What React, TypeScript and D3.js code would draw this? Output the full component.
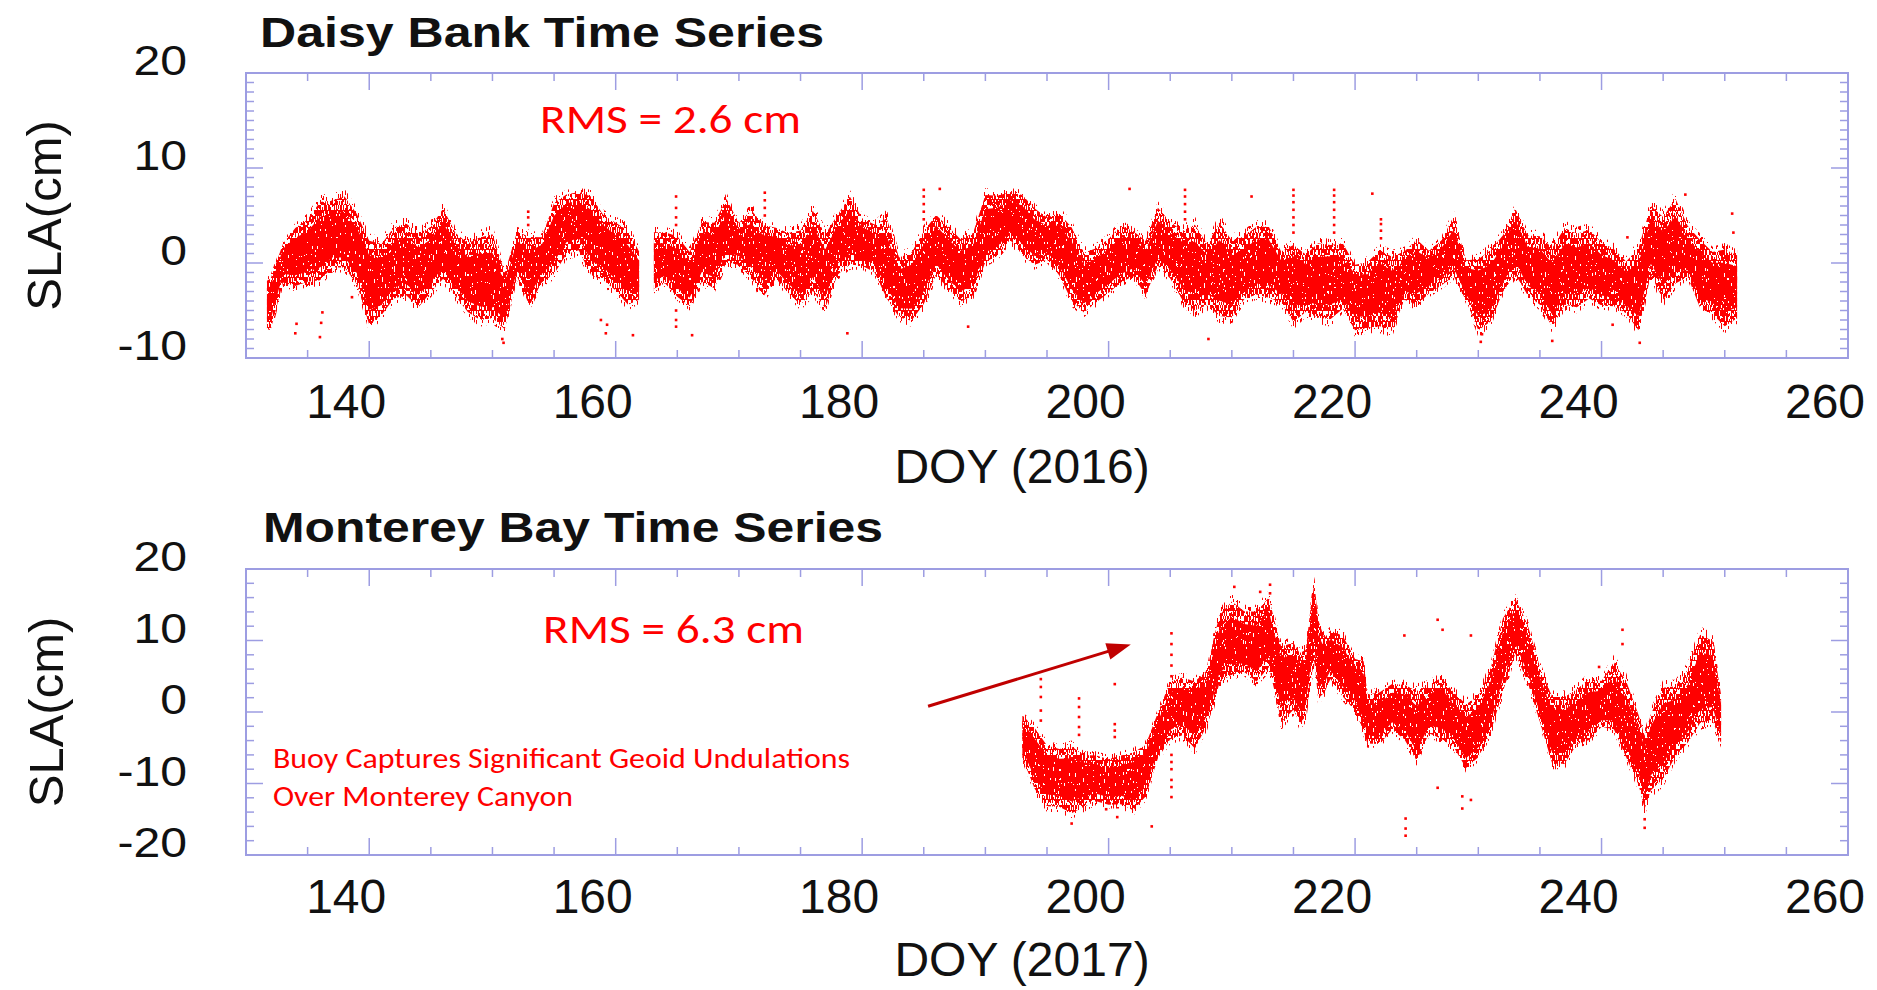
import React from "react";
import * as d3 from "d3";

const W = 1877;
const H = 990;

// ---------- Daisy Bank, 2016 (daily envelope of the SLA scatter, cm) ----------
const daisyDoy = [
  131.7, 132, 133, 134, 135, 136, 137, 138, 139, 140,
  141, 142, 143, 144, 145, 146, 147, 148, 149, 150,
  151, 152, 153, 154, 155, 156, 157, 158, 159, 160,
  161, 161.9, 162.5, 163.1, 164, 165, 166, 167, 168, 169,
  170, 171, 172, 173, 174, 175, 176, 177, 178, 179,
  180, 181, 182, 183, 184, 185, 186, 187, 188, 189,
  190, 191, 192, 193, 194, 195, 196, 197, 198, 199,
  200, 201, 202, 203, 204, 205, 206, 207, 208, 209,
  210, 211, 212, 213, 214, 215, 216, 217, 218, 219,
  220, 221, 222, 223, 224, 225, 226, 227, 228, 229,
  230, 231, 232, 233, 234, 235, 236, 237, 238, 239,
  240, 241, 242, 243, 244, 245, 246, 247, 248, 249,
  250, 251,
];
const daisyLow = [
  -7.5, -7.6, -2.5, -3, -2.5, -2.5, -1, -1, -2.8, -7.3,
  -6, -4.3, -4, -5.3, -3.6, -2.2, -4, -5.7, -6.7, -6.4,
  -7.5, -1.8, -5, -2.5, -1.8, 0.3, 0.7, -2, -2.5, -3.5,
  -5, -4.3, NaN, -3.2, -2.5, -4, -5, -2.5, -3.2, -0.4,
  -0.7, -2.1, -4.3, -2.1, -3.6, -5, -3.6, -5.3, -1.8, -0.7,
  -0.7, -1.4, -4.3, -6.2, -6.7, -5, -1.8, -3.2, -4.6, -3.9,
  -0.4, 0.3, 2, 0.3, -0.7, 0, -1.8, -4.6, -5.7, -4.6,
  -3.6, -2.5, -1.8, -3.9, -0.7, -2.1, -4.6, -5.7, -5, -6.4,
  -6.4, -4.3, -3.9, -4.3, -4.6, -7, -5.7, -6.4, -6.7, -5.3,
  -7.8, -7.4, -7.4, -7.8, -4.3, -5, -3.6, -2.8, -1.8, -4.3,
  -7.8, -6.7, -3.5, -1.8, -3.9, -5, -7.4, -5, -5.3, -4.3,
  -5, -5, -5.7, -7.8, -1.8, -4.6, -2.8, -1.8, -5.3, -6,
  -7.4, -6.4,
];
const daisyMid = [
  -4, -4, 0.5, 0.8, 1, 2, 2.5, 2.5, 1, -2,
  -2.5, -0.5, 0, -1, 0, 1.5, -0.5, -2, -2, -2.5,
  -4, 0.5, -1.5, 0.5, 2.5, 4.5, 5, 3, 2, 0.5,
  -1, -1.5, NaN, 0, 0, -1, -2, 1, 0.5, 3,
  2.5, 1.5, 1, 1, -0.5, -1, 1, -1.5, 2, 3,
  2, 1.5, -0.5, -3, -2.5, -0.5, 2, 0, -1, -0.5,
  3, 3.5, 5, 4, 2.5, 2.5, 1.5, -0.5, -2.5, -1.5,
  -0.5, 0.5, 1, -0.5, 2, 1, 0, -1, -1.2, -1,
  -2, -1, 0, 0, -1.5, -1.5, -2, -2, -1.5, -2,
  -3, -3.5, -2.5, -3.5, -1.5, -1, -1, 0, 1, -2,
  -3, -3, -0.3, 2.5, -0.5, -1, -3, -1, -1, -0.5,
  -1.5, -2, -3, -3, 2, 0.5, 1.5, 0.5, -1.5, -2,
  -2.5, -2.5,
];
const daisyHigh = [
  -1.5, -1.2, 2.3, 4.2, 5.2, 7.2, 7.3, 7.8, 5.9, 3.1,
  2.8, 4.5, 4.9, 3.8, 4.5, 6.5, 3.8, 2.8, 3.5, 4,
  -0.5, 3.8, 3.5, 3.1, 7, 7.7, 7.9, 7.7, 5.6, 4.9,
  4.2, 1.7, NaN, 3.8, 3.8, 3.5, 1.7, 4.9, 4.9, 7.4,
  4.5, 6.3, 4.5, 4.2, 3.8, 4.2, 6.3, 3.8, 5.6, 7.7,
  5.2, 4.5, 5.6, 1.2, 1.7, 4, 5.6, 4.5, 3.1, 3.8,
  7.9, 7.7, 7.9, 7.7, 6.3, 5.2, 5.9, 4.5, 1.7, 2.1,
  3.1, 4.5, 3.8, 2.8, 6.5, 4.9, 4, 4.9, 2.5, 5.2,
  3.1, 3.5, 4.5, 4.5, 1.7, 2.5, 1.4, 2.8, 2.5, 2.8,
  0.3, 0.7, 2, 1.4, 1.7, 3.1, 1.7, 2.8, 5.6, 0.7,
  1, 2.1, 3.5, 6.3, 3.5, 3.5, 2.4, 4.5, 3.8, 4.2,
  2.8, 2.1, 0.7, 2.4, 6.7, 5.6, 7.7, 4.5, 3.1, 1.7,
  2.1, 1.4,
];
// isolated samples outside the daily envelope
const daisyStrayDoy = [
  152.9, 152.9, 152.9, 164.9, 164.9, 164.9, 164.9, 164.9, 164.9, 164.9,
  172.1, 172.1, 172.1, 172.1, 185.0, 185.0, 185.0, 185.0, 185.0,
  206.2, 206.2, 206.2, 206.2, 206.2, 215.0, 215.0, 215.0, 215.0, 215.0, 215.0, 215.0,
  218.3, 218.3, 218.3, 218.3, 218.3, 218.3, 218.3, 222.1, 222.1, 222.1, 222.1,
  134.0, 134.1, 136.0, 136.1, 136.2, 138.6, 158.8, 159.2, 159.3, 161.4, 166.2, 178.8,
  186.3, 188.6, 201.7, 208.1, 211.6, 221.4, 240.9, 242.1, 250.7, 250.6, 246.8,
  150.8, 150.9, 230.2, 230.3, 236.0, 243.1,
];
const daisyStraySla = [
  4, 4.8, 5.4, 4, 4.8, 5.8, 7.0, -5, -6, -6.7,
  5, 5.8, 6.6, 7.4, 4.6, 5.4, 6.2, 7, 7.7,
  4.6, 5.4, 6.2, 7, 7.7, 3.2, 4, 4.8, 5.6, 6.4, 7.1, 7.7,
  3.2, 4, 4.8, 5.6, 6.4, 7.1, 7.7, 2.6, 3.4, 4.1, 4.6,
  -7.4, -6.4, -7.8, -6.3, -5.2, -3.6, -6, -7.4, -6.5, -7.6, -7.6, -7.4,
  7.8, -6.7, 7.8, -8, 7, 7.3, -6.5, 2.7, 3.2, 5.2, 7.2,
  -8, -8.4, -8.3, -7.5, -8.2, -8.4,
];

// ---------- Monterey Bay, 2017 ----------
const montereyDoy = [
  193, 194, 195, 196, 197, 198, 199, 200, 201, 202,
  203, 204, 205, 206, 207, 208, 208.5, 209, 210, 211,
  212, 213, 213.7, 214, 215, 215.5, 216, 216.4, 216.7, 217,
  217.5, 218, 219, 220, 220.7, 221, 222, 223, 224, 225,
  226, 227, 228, 229, 230, 231, 232, 233, 234, 235,
  236, 237, 238, 239, 240, 241, 242, 243, 243.5, 244,
  245, 246, 247, 248, 249, 249.7,
];
const montereyLow = [
  -7, -11.5, -14, -14, -15, -14, -13, -13.5, -13.5, -14.5,
  -12.5, -7, -4.5, -4, -6, -2.5, 0, 3.5, 4.5, 5,
  3.5, 5.5, 0.5, -2.5, -0.5, -2.5, -1.5, 3.5, 6, 1,
  2, 4, 1.5, -0.5, -3.5, -5, -5, -3, -4.5, -7.5,
  -3.5, -4.5, -5.5, -8.5, -7, -3.5, 2, 7.5, 3.5, -2,
  -8, -8, -5, -4.5, -2.5, -3, -7, -11, -14.5, -12,
  -10.5, -7, -5, -2.5, -2, -5,
];
const montereyMid = [
  -3, -6.5, -8.5, -9, -9.5, -9, -9.5, -10, -9.5, -9.5,
  -8, -3.5, 0, 1, 0, 2, 5, 8, 9.5, 9,
  8.5, 10.5, 6, 4.5, 5, 4, 4, 10, 13, 7,
  6.5, 8, 6, 4, 2, -1, -1.5, 0.5, 0, -3,
  0, 0.5, -1.5, -4, -2.5, 1, 8, 12, 8, 2,
  -3, -3, -1.5, -0.5, 0.5, 1, -2.5, -5.5, -8, -5,
  -3, -1.5, 0, 4, 4, -1,
];
const montereyHigh = [
  0, -1.5, -4, -4.5, -4, -5.5, -5.5, -6, -5.5, -5,
  -4, 0.5, 5, 5.5, 5, 6.5, 11, 14.5, 16.5, 15,
  15, 17, 12, 10, 10.5, 9, 9.5, 15.5, 18.9, 14,
  11, 12, 11.5, 8, 8, 3, 3.5, 4.5, 4.5, 4,
  4.5, 5.5, 3.5, 2, 3, 7, 14, 16.5, 13, 7,
  3, 3, 4, 5.5, 5, 8, 5.5, 0.5, -2.5, 0.5,
  4.5, 4.5, 7, 12, 11, 3,
];
const montereyStrayDoy = [
  194.5, 194.5, 194.5, 194.5, 194.5, 197.6, 197.6, 197.6, 197.6, 197.6, 197.0,
  199.8, 200.5, 200.5, 200.5, 200.5, 200.7, 203.5,
  205.1, 205.1, 205.1, 205.1, 205.1, 205.1, 205.1, 205.1, 205.1, 205.1, 205.1,
  210.2, 212.3, 213.1, 213.1, 224.0, 224.1, 224.1, 224.1, 226.7, 227.1, 226.7,
  228.7, 228.7, 229.4, 229.4, 239.8, 241.7, 241.7, 243.5, 243.5,
];
const montereyStraySla = [
  4.6, 3.5, 2.1, 0.2, -1.2, 1.9, 0.7, -0.7, -2.1, -3.2, -15.6,
  -13.6, 3.9, -1.7, -2.6, -3.5, -14.7, -16,
  11, 9.5, 8, 6.5, 5, -6, -7, -8, -9.5, -10.5, -11.9,
  17.5, 16.8, 17.8, 16.6, 10.7, -14.9, -17.3, -16.3, 12.9, 11.5, -10.6,
  -13.5, -11.8, 10.7, -12.3, 6.3, 11.5, 9.5, -16.2, -15,
];

// ---------- axes ----------
const xDomain = [130, 260];
const xTickLabels = [140, 160, 180, 200, 220, 240, 260];
const daisyYTicks = [-10, 0, 10, 20];
const montereyYTicks = [-20, -10, 0, 10, 20];

const FRAME = "#9d9de2";
const RED = "#ff0000";
const SANS = "'Liberation Sans', Arial, Helvetica, sans-serif";
const NOTE_FONT = "Carlito, 'Open Sans', 'Noto Sans', sans-serif";

const xScale = d3.scaleLinear().domain(xDomain).range([246, 1848]);

function thresholdTable(t: number) {
  return d3.range(64).map((k) => (k / 64 >= t ? 1 : 0)).join(" ");
}

function GrainFilter({ id, cut, freq, seed }: { id: string; cut: number; freq: string; seed: number }) {
  return (
    <filter id={id} filterUnits="userSpaceOnUse" x={0} y={0} width={W} height={H} colorInterpolationFilters="sRGB">
      <feTurbulence type="fractalNoise" baseFrequency={freq} numOctaves={1} seed={seed} result="noise" />
      <feColorMatrix in="noise" type="matrix" values="0 0 0 0 0  0 0 0 0 0  0 0 0 0 0  1 0 0 0 0" result="alpha" />
      <feComponentTransfer in="alpha" result="mask">
        <feFuncA type="discrete" tableValues={thresholdTable(cut)} />
      </feComponentTransfer>
      <feComposite in="SourceGraphic" in2="mask" operator="in" />
    </filter>
  );
}

type PanelProps = {
  id: string;
  yDomain: [number, number];
  yRange: [number, number];
  yMinorStep: number;
  yTicks: number[];
  doy: number[];
  low: number[];
  mid: number[];
  high: number[];
  strayDoy: number[];
  straySla: number[];
  title: string;
  titleX: number;
  titleBaseline: number;
  titleWidth: number;
  xTitle: string;
  xTitleBaseline: number;
  xLabelBaseline: number;
  yTitleX: number;
};

function Panel(p: PanelProps) {
  const y = d3.scaleLinear().domain(p.yDomain).range(p.yRange);
  const [x0, x1] = xScale.range();
  const yb = p.yRange[0];
  const yt = p.yRange[1];
  const idx = d3.range(p.doy.length);
  const defined = (i: number) => !Number.isNaN(p.low[i]);

  // bands between the centre line and a fraction of the way to each extreme
  const band = (f: number) =>
    d3
      .area<number>()
      .defined(defined)
      .x((i) => xScale(p.doy[i]))
      .y0((i) => y(p.mid[i] + (p.low[i] - p.mid[i]) * f))
      .y1((i) => y(p.mid[i] + (p.high[i] - p.mid[i]) * f));

  const xMinor = d3.range(xDomain[0] + 5, xDomain[1], 5);
  const yMinor = d3.range(p.yDomain[0] + p.yMinorStep, p.yDomain[1], p.yMinorStep);
  const isMajorX = (t: number) => t % 20 === 0;
  const isMajorY = (v: number) => v % 10 === 0;

  return (
    <g>
      <clipPath id={`${p.id}-clip`}>
        <rect x={x0} y={yt} width={x1 - x0} height={yb - yt} />
      </clipPath>

      {/* scatter cloud */}
      <g clipPath={`url(#${p.id}-clip)`} fill={RED}>
        <path d={band(1)(idx) ?? ""} filter="url(#grainSparse)" />
        <path d={band(0.85)(idx) ?? ""} filter="url(#grainMid)" />
        <path d={band(0.55)(idx) ?? ""} filter="url(#grainDense)" />
        {p.strayDoy.map((d, i) => (
          <rect key={i} x={xScale(d) - 1.3} y={y(p.straySla[i]) - 1.3} width={2.6} height={2.6} />
        ))}
      </g>

      {/* frame and ticks */}
      <g stroke={FRAME} fill="none">
        <rect x={x0} y={yt} width={x1 - x0} height={yb - yt} strokeWidth={2} />
        {xMinor.map((t) => {
          const len = isMajorX(t) ? 17 : 8;
          const xx = xScale(t);
          return (
            <g key={t} strokeWidth={1.5}>
              <line x1={xx} x2={xx} y1={yb} y2={yb - len} />
              <line x1={xx} x2={xx} y1={yt} y2={yt + len} />
            </g>
          );
        })}
        {yMinor.map((v) => {
          const len = isMajorY(v) ? 17 : 8;
          const yy = y(v);
          return (
            <g key={v} strokeWidth={1.5}>
              <line x1={x0} x2={x0 + len} y1={yy} y2={yy} />
              <line x1={x1} x2={x1 - len} y1={yy} y2={yy} />
            </g>
          );
        })}
      </g>

      {/* tick labels and titles */}
      <g fontFamily={SANS} fill="#111">
        {xTickLabels.map((t) => (
          <text key={t} x={xScale(t) - 23} y={p.xLabelBaseline} fontSize={48} textAnchor="middle">
            {t}
          </text>
        ))}
        {p.yTicks.map((v) => (
          <text key={v} transform={`translate(187,${y(v) + 2}) scale(1.12,1)`} fontSize={43} textAnchor="end">
            {v}
          </text>
        ))}
        <text x={1022} y={p.xTitleBaseline} fontSize={48} textAnchor="middle">
          {p.xTitle}
        </text>
        <text transform={`translate(${p.yTitleX},${(yt + yb) / 2}) rotate(-90)`} fontSize={49} textAnchor="middle">
          SLA(cm)
        </text>
        <text
          x={p.titleX}
          y={p.titleBaseline}
          fontSize={42}
          fontWeight="bold"
          textLength={p.titleWidth}
          lengthAdjust="spacingAndGlyphs"
        >
          {p.title}
        </text>
      </g>
    </g>
  );
}

// annotation anchor points in data units of the lower panel
const arrowTail = { doy: 185.35, sla: 0.8 };
const arrowTip = { doy: 201.8, sla: 9.45 };

function Arrow() {
  const y = d3.scaleLinear().domain([-20, 20]).range([855, 569]);
  const tx = xScale(arrowTail.doy);
  const ty = y(arrowTail.sla);
  const hx = xScale(arrowTip.doy);
  const hy = y(arrowTip.sla);
  const ang = Math.atan2(hy - ty, hx - tx);
  const headLen = 24;
  const headHalf = 8.5;
  const bx = hx - headLen * Math.cos(ang);
  const by = hy - headLen * Math.sin(ang);
  const nx = -Math.sin(ang);
  const ny = Math.cos(ang);
  const head = [
    [hx, hy],
    [bx + nx * headHalf, by + ny * headHalf],
    [bx - nx * headHalf, by - ny * headHalf],
  ];
  return (
    <g>
      <line x1={tx} y1={ty} x2={bx + 2 * Math.cos(ang)} y2={by + 2 * Math.sin(ang)} stroke="#c00000" strokeWidth={3} />
      <polygon points={head.map((q) => q.join(",")).join(" ")} fill="#c00000" />
    </g>
  );
}

export default function App() {
  return (
    <svg
      width={W}
      height={H}
      viewBox={`0 0 ${W} ${H}`}
      style={{ position: "absolute", left: 0, top: 0, background: "#fff" }}
    >
      <defs>
        <GrainFilter id="grainSparse" cut={0.58} freq="1.1 0.16" seed={4} />
        <GrainFilter id="grainMid" cut={0.48} freq="1.0 0.18" seed={11} />
        <GrainFilter id="grainDense" cut={0.36} freq="0.9 0.22" seed={23} />
      </defs>
      <rect width={W} height={H} fill="#fff" />

      <Panel
        id="daisy"
        yDomain={[-10, 20]}
        yRange={[358, 73]}
        yMinorStep={1}
        yTicks={daisyYTicks}
        doy={daisyDoy}
        low={daisyLow}
        mid={daisyMid}
        high={daisyHigh}
        strayDoy={daisyStrayDoy}
        straySla={daisyStraySla}
        title="Daisy Bank Time Series"
        titleX={260}
        titleBaseline={47}
        titleWidth={564}
        xTitle="DOY (2016)"
        xTitleBaseline={483}
        xLabelBaseline={418}
        yTitleX={61}
      />
      <Panel
        id="monterey"
        yDomain={[-20, 20]}
        yRange={[855, 569]}
        yMinorStep={2}
        yTicks={montereyYTicks}
        doy={montereyDoy}
        low={montereyLow}
        mid={montereyMid}
        high={montereyHigh}
        strayDoy={montereyStrayDoy}
        straySla={montereyStraySla}
        title="Monterey Bay Time Series"
        titleX={263}
        titleBaseline={542}
        titleWidth={620}
        xTitle="DOY (2017)"
        xTitleBaseline={976}
        xLabelBaseline={913}
        yTitleX={63}
      />

      <g fontFamily={NOTE_FONT} fill={RED}>
        <text x={540} y={133} fontSize={42} textLength={261} lengthAdjust="spacingAndGlyphs">
          RMS = 2.6 cm
        </text>
        <text x={543} y={643} fontSize={42} textLength={261} lengthAdjust="spacingAndGlyphs">
          RMS = 6.3 cm
        </text>
        <text x={273} y={768} fontSize={28} textLength={577} lengthAdjust="spacingAndGlyphs">
          Buoy Captures Significant Geoid Undulations
        </text>
        <text x={273} y={806} fontSize={28} textLength={300} lengthAdjust="spacingAndGlyphs">
          Over Monterey Canyon
        </text>
      </g>
      <Arrow />
    </svg>
  );
}
